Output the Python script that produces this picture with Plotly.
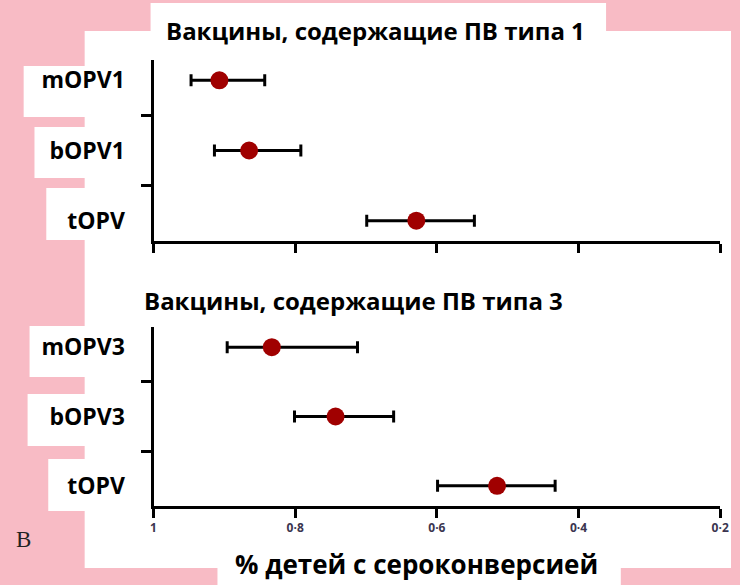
import plotly.graph_objects as go

# ---- data ----
vaccines_type1 = ["mOPV1", "bOPV1", "tOPV"]
est_type1 = [0.907, 0.865, 0.629]
low_type1 = [0.843, 0.792, 0.547]
high_type1 = [0.947, 0.914, 0.699]

vaccines_type3 = ["mOPV3", "bOPV3", "tOPV"]
est_type3 = [0.833, 0.743, 0.515]
low_type3 = [0.712, 0.661, 0.433]
high_type3 = [0.896, 0.801, 0.599]

x_tick_vals = [1, 0.8, 0.6, 0.4, 0.2]
x_tick_text = ["1", "0·8", "0·6", "0·4", "0·2"]

title1 = "Вакцины, содержащие ПВ типа 1"
title3 = "Вакцины, содержащие ПВ типа 3"
x_title = "% детей с сероконверсией"

W, H = 740, 585
FONT = "Open Sans"
PINK = "#f8bbc5"
RED = "#a00000"


def px(x):
    return x / W


def py(y):
    return 1 - y / H


fig = go.Figure()


def add_panel(names, est, low, high, xa, ya):
    fig.add_trace(go.Scatter(
        x=est, y=names, mode="markers",
        marker=dict(color=RED, size=18, line=dict(width=0)),
        error_x=dict(type="data", symmetric=False,
                     array=[h - e for h, e in zip(high, est)],
                     arrayminus=[e - l for e, l in zip(est, low)],
                     color="black", thickness=3, width=6),
        xaxis=xa, yaxis=ya, showlegend=False, hoverinfo="skip"))


add_panel(vaccines_type1, est_type1, low_type1, high_type1, "x", "y")
add_panel(vaccines_type3, est_type3, low_type3, high_type3, "x2", "y2")

xdom = [px(153), px(729)]
common_x = dict(domain=xdom, range=[1, 0.2], showline=True, linewidth=3,
                linecolor="black", ticks="outside", ticklen=9, tickwidth=3,
                tickcolor="black", tickvals=x_tick_vals, showgrid=False,
                zeroline=False)
common_y = dict(type="category", showline=True, linewidth=3, linecolor="black",
                ticks="outside", ticklen=10, tickwidth=3, tickcolor="black",
                tickson="boundaries", showgrid=False, zeroline=False,
                autorange="reversed", ticklabelstandoff=21,
                tickfont=dict(family=FONT, size=23, color="black", weight="bold"))

fig.update_layout(
    width=W, height=H, margin=dict(l=0, r=0, t=0, b=0),
    paper_bgcolor=PINK, plot_bgcolor="rgba(0,0,0,0)",
    xaxis=dict(**common_x, anchor="y", showticklabels=False),
    yaxis=dict(**common_y, domain=[py(241), py(60)], anchor="x",
               categoryarray=vaccines_type1, categoryorder="array"),
    xaxis2=dict(**common_x, anchor="y2", ticktext=x_tick_text, ticklabelstandoff=0,
                tickfont=dict(family=FONT, size=12, color="#3b3550", weight="bold")),
    yaxis2=dict(**common_y, domain=[py(506), py(327)], anchor="x2",
                categoryarray=vaccines_type3, categoryorder="array"),
)

# white background boxes (slide decoration)
boxes = [
    (83, 31, 740, 568),     # main panel
    (150, 3, 613, 31),      # top title box
    (218, 568, 628, 585),   # x-title box
    (21, 66, 150, 117),
    (32, 127, 150, 178),
    (44, 188, 150, 240),
    (27, 326, 150, 377),
    (25, 394, 150, 446),
    (46, 459, 150, 511),
]
for x0, y0, x1, y1 in boxes:
    fig.add_shape(type="rect", xref="paper", yref="paper",
                  x0=px(x0), x1=px(x1), y0=py(y1), y1=py(y0),
                  fillcolor="white", line=dict(width=0), layer="below")

fig.add_annotation(text=title1, xref="paper", yref="paper", x=px(379), y=py(30),
                   yanchor="middle", showarrow=False,
                   font=dict(family=FONT, size=24, color="black", weight="bold"))
fig.add_annotation(text=title3, xref="paper", yref="paper", x=px(356), y=py(301),
                   yanchor="middle", showarrow=False,
                   font=dict(family=FONT, size=24, color="black", weight="bold"))
fig.add_annotation(text=x_title, xref="paper", yref="paper", x=px(420), y=py(564),
                   yanchor="middle", showarrow=False,
                   font=dict(family=FONT, size=26, color="black", weight="bold"))
fig.add_annotation(text="В", xref="paper", yref="paper", x=px(31), y=py(539),
                   xanchor="right", yanchor="middle", showarrow=False,
                   font=dict(family="Liberation Serif", size=23, color="#222"))

fig.write_html("out.html")
